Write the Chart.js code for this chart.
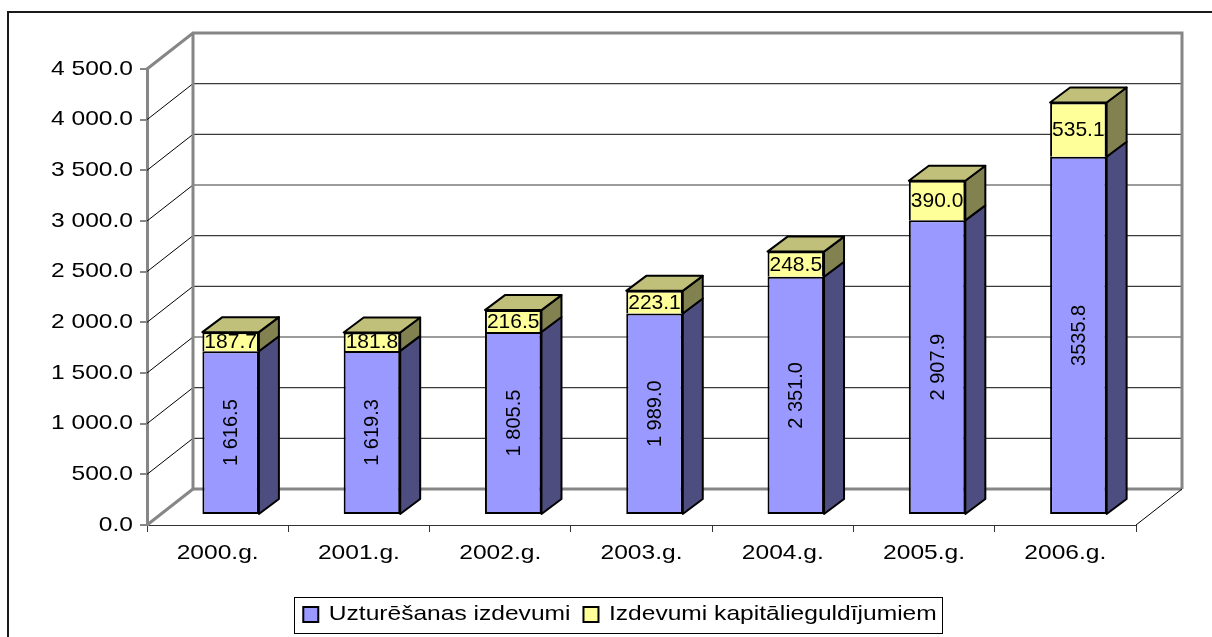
<!DOCTYPE html>
<html>
<head>
<meta charset="utf-8">
<script src="https://cdn.jsdelivr.net/npm/chart.js@4.4.0/dist/chart.umd.min.js"></script>
<style>
html,body{margin:0;padding:0;background:#fff;}
#wrap{width:1212px;height:637px;position:relative;overflow:hidden;}
</style>
</head>
<body>
<div id="wrap"><canvas id="c" width="1212" height="637"></canvas></div>
<script>
// ---------- data ----------
const categories = ['2000.g.', '2001.g.', '2002.g.', '2003.g.', '2004.g.', '2005.g.', '2006.g.'];
const seriesNames = ['Uzturēšanas izdevumi', 'Izdevumi kapitālieguldījumiem'];
const maintenance = [1616.5, 1619.3, 1805.5, 1989.0, 2351.0, 2907.9, 3535.8];
const capital = [187.7, 181.8, 216.5, 223.1, 248.5, 390.0, 535.1];
const maintenanceLabels = ['1 616.5', '1 619.3', '1 805.5', '1 989.0', '2 351.0', '2 907.9', '3535.8'];
const capitalLabels = ['187.7', '181.8', '216.5', '223.1', '248.5', '390.0', '535.1'];
const yTickLabels = ['0.0', '500.0', '1 000.0', '1 500.0', '2 000.0', '2 500.0', '3 000.0', '3 500.0', '4 000.0', '4 500.0'];
const yMin = 0, yMax = 4500, yStep = 500;

// ---------- style ----------
const FONT = '"Liberation Sans", Arial, sans-serif';
const WALL = { dx: 46, dy: -36 };                 // depth of the 3D box
const BAR = { ox: 13, oy: -10, dx: 20, dy: -15 }; // bar plane offset and bar depth
const COLORS = {
  blueFront: '#9999FF', blueSide: '#4D4D80',
  yelFront: '#FFFF99', yelSide: '#828250', yelTop: '#C0C07A',
  frame: '#868686', grid: '#3a3a3a'
};
const TEXT_STRETCH = 1.17;   // axis & legend text is horizontally stretched in the original
const LEGEND_CENTER = 620;

// horizontally stretched text rendering for the axis / legend text
const canvas = document.getElementById('c');
const ctx2d = canvas.getContext('2d');
(function installStretch(ctx) {
  const ft = ctx.fillText.bind(ctx);
  const mt = ctx.measureText.bind(ctx);
  ctx.__sx = TEXT_STRETCH;
  ctx.fillText = function (t, x, y, mw) {
    const sx = ctx.__sx || 1;
    if (sx === 1) return mw === undefined ? ft(t, x, y) : ft(t, x, y, mw);
    ctx.save();
    ctx.translate(x, y);
    ctx.scale(sx, 1);
    if (mw === undefined) ft(t, 0, 0); else ft(t, 0, 0, mw / sx);
    ctx.restore();
  };
  ctx.measureText = function (t) {
    const m = mt(t);
    const sx = ctx.__sx || 1;
    if (sx === 1) return m;
    return {
      width: m.width * sx,
      actualBoundingBoxAscent: m.actualBoundingBoxAscent,
      actualBoundingBoxDescent: m.actualBoundingBoxDescent,
      actualBoundingBoxLeft: m.actualBoundingBoxLeft * sx,
      actualBoundingBoxRight: m.actualBoundingBoxRight * sx,
      fontBoundingBoxAscent: m.fontBoundingBoxAscent,
      fontBoundingBoxDescent: m.fontBoundingBoxDescent
    };
  };
})(ctx2d);

const threeD = {
  id: 'threeD',
  afterLayout(chart) {
    const lg = chart.legend;
    if (lg) {
      const w = lg.right - lg.left;
      lg.left = LEGEND_CENTER - w / 2;
      lg.right = LEGEND_CENTER + w / 2;
    }
  },
  beforeDraw(chart) {
    const ctx = chart.ctx;
    ctx.save();
    ctx.strokeStyle = '#1a1a1a';
    ctx.lineWidth = 2;
    ctx.strokeRect(8, 12, 1400, 800);
    ctx.restore();
  },
  beforeDatasetsDraw(chart) {
    const { ctx, chartArea: a, scales: { y } } = chart;
    const L = a.left, R = a.right;
    const y0 = y.getPixelForValue(yMin), yT = y.getPixelForValue(yMax);
    const dx = WALL.dx, dy = WALL.dy;
    ctx.save();
    for (let v = yMin + yStep; v < yMax; v += yStep) {
      const py = y.getPixelForValue(v);
      ctx.strokeStyle = COLORS.grid; ctx.lineWidth = 1.2;
      ctx.beginPath(); ctx.moveTo(L + dx, py + dy); ctx.lineTo(R + dx, py + dy); ctx.stroke();
      ctx.strokeStyle = '#000'; ctx.lineWidth = 1;
      ctx.beginPath(); ctx.moveTo(L, py); ctx.lineTo(L + dx, py + dy); ctx.stroke();
    }
    ctx.strokeStyle = COLORS.frame; ctx.lineWidth = 3; ctx.lineJoin = 'miter';
    ctx.beginPath();
    ctx.moveTo(L, yT); ctx.lineTo(L + dx, yT + dy); ctx.lineTo(R + dx, yT + dy); ctx.lineTo(R + dx, y0 + dy);
    ctx.stroke();
    ctx.beginPath();
    ctx.moveTo(L + dx, yT + dy); ctx.lineTo(L + dx, y0 + dy); ctx.lineTo(R + dx, y0 + dy);
    ctx.stroke();
    ctx.beginPath(); ctx.moveTo(L, y0); ctx.lineTo(L + dx, y0 + dy); ctx.stroke();
    ctx.strokeStyle = '#000'; ctx.lineWidth = 1;
    ctx.beginPath(); ctx.moveTo(R, y0); ctx.lineTo(R + dx, y0 + dy); ctx.stroke();
    ctx.restore();
    ctx.save();
    ctx.translate(BAR.ox, BAR.oy);
  },
  afterDatasetsDraw(chart) {
    const ctx = chart.ctx;
    ctx.restore();
    ctx.save();
    ctx.strokeStyle = '#000';
    ctx.lineWidth = 2;
    ctx.lineJoin = 'round';
    const metas = [chart.getDatasetMeta(0), chart.getDatasetMeta(1)];
    const sides = [COLORS.blueSide, COLORS.yelSide];
    metas.forEach((meta, di) => {
      meta.data.forEach((el) => {
        const left = el.x - el.width / 2 + BAR.ox, right = el.x + el.width / 2 + BAR.ox;
        const top = Math.min(el.y, el.base) + BAR.oy, bot = Math.max(el.y, el.base) + BAR.oy;
        ctx.fillStyle = sides[di];
        ctx.beginPath();
        ctx.moveTo(right, top); ctx.lineTo(right + BAR.dx, top + BAR.dy);
        ctx.lineTo(right + BAR.dx, bot + BAR.dy); ctx.lineTo(right, bot); ctx.closePath();
        ctx.fill(); ctx.stroke();
        if (di === 1) {
          ctx.fillStyle = COLORS.yelTop;
          ctx.beginPath();
          ctx.moveTo(left, top); ctx.lineTo(left + BAR.dx, top + BAR.dy);
          ctx.lineTo(right + BAR.dx, top + BAR.dy); ctx.lineTo(right, top); ctx.closePath();
          ctx.fill(); ctx.stroke();
        }
      });
    });
    // data labels (not stretched)
    const prevSx = ctx.__sx;
    ctx.__sx = 1;
    ctx.fillStyle = '#000';
    ctx.textAlign = 'center';
    ctx.textBaseline = 'middle';
    metas[0].data.forEach((el, i) => {
      const cx = el.x + BAR.ox, cy = (el.y + el.base) / 2 + BAR.oy;
      ctx.save();
      ctx.translate(cx + 1, cy);
      ctx.rotate(-Math.PI / 2);
      ctx.font = '20px ' + FONT;
      ctx.fillText(maintenanceLabels[i], 0, 0);
      ctx.restore();
    });
    metas[1].data.forEach((el, i) => {
      const cx = el.x + BAR.ox, cy = (el.y + el.base) / 2 + BAR.oy;
      ctx.font = '21px ' + FONT;
      ctx.fillText(capitalLabels[i], cx, cy + 1);
    });
    ctx.__sx = prevSx;
    ctx.restore();
  },
  afterDraw(chart) {
    const lg = chart.legend;
    if (!lg || !lg.legendHitBoxes || !lg.legendHitBoxes.length) return;
    const hb = lg.legendHitBoxes;
    const first = hb[0], last = hb[hb.length - 1];
    const ctx = chart.ctx;
    ctx.save();
    ctx.strokeStyle = '#000';
    ctx.lineWidth = 1;
    const x1 = Math.round(first.left - 9) + 0.5, x2 = Math.round(last.left + last.width + 5) + 0.5;
    const y1 = Math.round(first.top - 7) + 0.5, y2 = Math.round(first.top + first.height + 8) + 0.5;
    ctx.strokeRect(x1, y1, x2 - x1, y2 - y1);
    ctx.restore();
  }
};

Chart.defaults.font.family = FONT;
Chart.defaults.color = '#000';

new Chart(canvas, {
  type: 'bar',
  data: {
    labels: categories,
    datasets: [
      {
        label: seriesNames[0], data: maintenance,
        backgroundColor: COLORS.blueFront, borderColor: '#000',
        borderWidth: 2, borderSkipped: false, clip: false
      },
      {
        label: seriesNames[1], data: capital,
        backgroundColor: COLORS.yelFront, borderColor: '#000',
        borderWidth: { top: 2, left: 2, right: 2, bottom: 0 }, borderSkipped: false, clip: false
      }
    ]
  },
  options: {
    responsive: false,
    animation: false,
    devicePixelRatio: 1,
    layout: { padding: { left: 0, right: 76, top: 69, bottom: 2 } },
    datasets: { bar: { barPercentage: 0.4, categoryPercentage: 1.0 } },
    scales: {
      x: {
        stacked: true,
        grid: { drawOnChartArea: false, drawTicks: true, tickLength: 7, color: '#333', lineWidth: 1, offset: true },
        border: { display: true, color: '#333', width: 1 },
        ticks: { font: { size: 21 }, padding: 9, maxRotation: 0, autoSkip: false },
        afterFit(s) { s.height = 66; }
      },
      y: {
        stacked: true,
        min: yMin, max: yMax,
        grid: { drawOnChartArea: false, drawTicks: true, tickLength: 7, color: COLORS.frame, lineWidth: 2 },
        border: { display: true, color: COLORS.frame, width: 3 },
        ticks: {
          stepSize: yStep, font: { size: 21 }, padding: 7,
          callback: (v, i) => yTickLabels[i]
        },
        afterFit(s) { s.width = 147; }
      }
    },
    plugins: {
      legend: {
        position: 'bottom',
        labels: {
          font: { size: 21 }, boxWidth: 15, boxHeight: 15, padding: 13, color: '#000',
          generateLabels(chart) {
            return Chart.defaults.plugins.legend.labels.generateLabels(chart).map(l => Object.assign(l, { lineWidth: 2, strokeStyle: '#000' }));
          }
        },
        onClick: null
      },
      tooltip: { enabled: false }
    }
  },
  plugins: [threeD]
});
</script>
</body>
</html>
